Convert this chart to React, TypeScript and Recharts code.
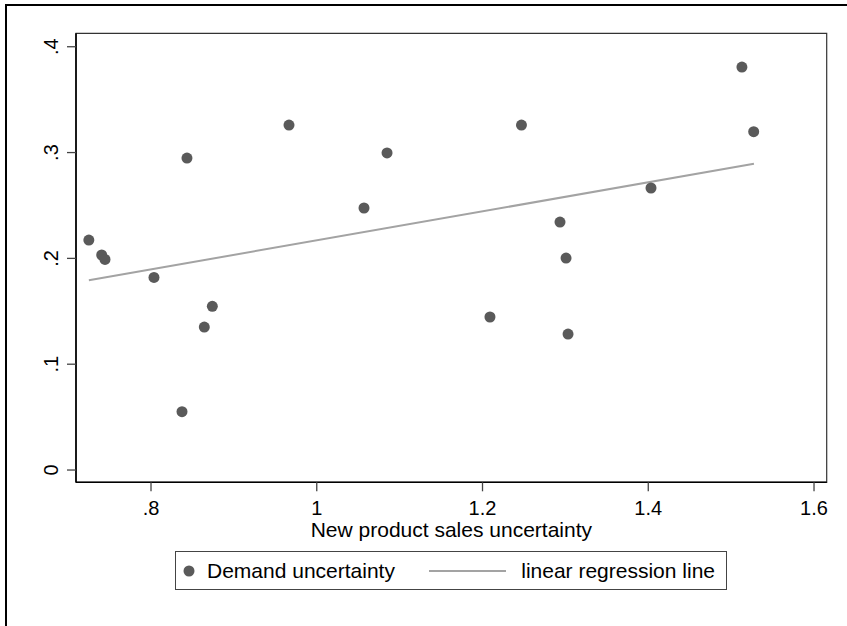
import React from 'react';
import { ScatterChart, Scatter, XAxis, YAxis, ReferenceArea } from 'recharts';

// sales uncertainty (x) vs demand uncertainty (y)
const salesUncertainty = [0.725, 0.7405, 0.7445, 0.8036, 0.874, 0.8643, 0.8374, 0.8434, 0.9665, 1.057, 1.0848, 1.209, 1.247, 1.2935, 1.3008, 1.3032, 1.4033, 1.513, 1.5272];
const demandUncertainty = [0.2173, 0.2032, 0.199, 0.182, 0.1547, 0.1351, 0.0551, 0.2948, 0.326, 0.2476, 0.2996, 0.1446, 0.326, 0.2343, 0.2003, 0.1285, 0.2665, 0.3808, 0.3197];

// fitted line end points
const fitX = [0.725, 1.5275];
const fitY = [0.1793, 0.2894];

const xTicks = [0.8, 1, 1.2, 1.4, 1.6];
const yTicks = [0, 0.1, 0.2, 0.3, 0.4];
const xDomain = [0.7095, 1.6153];
const yDomain = [-0.0116, 0.4127];

const points = salesUncertainty.map((x, i) => ({ x, y: demandUncertainty[i] }));
const fitLine = fitX.map((x, i) => ({ x, y: fitY[i] }));

const FONT = '"Liberation Sans", Arial, Helvetica, sans-serif';
const MARKER = '#5a5a5a';
const LINE = '#a3a3a3';

// stata style labels: .8 instead of 0.8
const fmt = (v: number) => {
    const s = String(Math.round(v * 10) / 10);
    return s.startsWith('0.') ? s.slice(1) : s;
};

const XTick = ({ x, y, payload }: any) => (
    <text x={x} y={y + 22} textAnchor="middle" fontSize={20} fontFamily={FONT} fill="#000">
        {fmt(payload.value)}
    </text>
);

const YTick = ({ x, y, payload }: any) => {
    const bx = x - 7;
    return (
        <text x={bx} y={y} transform={`rotate(-90 ${bx} ${y})`} textAnchor="middle" fontSize={20} fontFamily={FONT} fill="#000">
            {fmt(payload.value)}
        </text>
    );
};

const Dot = (p: any) => <circle cx={p.cx} cy={p.cy} r={5.5} fill={MARKER} />;

export default function App() {
    return (
        <div style={{ position: 'absolute', left: 0, top: 0, width: 847, height: 626, background: '#fff', overflow: 'hidden' }}>
            {/* outer frame */}
            <div style={{ position: 'absolute', left: 5, top: 4, width: 900, height: 700, borderTop: '2px solid #000', borderLeft: '2px solid #000' }} />

            <ScatterChart width={847} height={626} margin={{ top: 33.3, right: 20.3, bottom: 83.7, left: 0 }} style={{ position: 'absolute', left: 0, top: 0 }}>
                <ReferenceArea x1={xDomain[0]} x2={xDomain[1]} y1={yDomain[0]} y2={yDomain[1]} fill="none" stroke="#333" strokeWidth={1.2} />
                <XAxis
                    type="number"
                    dataKey="x"
                    domain={xDomain}
                    ticks={xTicks}
                    allowDataOverflow
                    height={60}
                    tickSize={9}
                    tick={<XTick />}
                    tickLine={{ stroke: '#444', strokeWidth: 1.3 }}
                    axisLine={{ stroke: '#000', strokeWidth: 1.6 }}
                    label={{
                        content: ({ viewBox }: any) => (
                            <text x={viewBox.x + viewBox.width / 2} y={537} textAnchor="middle" fontSize={21} fontFamily={FONT} fill="#000">
                                New product sales uncertainty
                            </text>
                        ),
                    }}
                />
                <YAxis
                    type="number"
                    dataKey="y"
                    domain={yDomain}
                    ticks={yTicks}
                    allowDataOverflow
                    width={76}
                    tickSize={9}
                    tick={<YTick />}
                    tickLine={{ stroke: '#444', strokeWidth: 1.3 }}
                    axisLine={{ stroke: '#000', strokeWidth: 1.6 }}
                />
                <Scatter data={fitLine} line={{ stroke: LINE, strokeWidth: 2 }} shape={() => <g />} isAnimationActive={false} />
                <Scatter data={points} shape={<Dot />} isAnimationActive={false} />
            </ScatterChart>

            {/* legend box */}
            <svg width={847} height={626} style={{ position: 'absolute', left: 0, top: 0, pointerEvents: 'none' }}>
                <rect x={175.5} y={551.5} width={551} height={38} fill="#fff" stroke="#444" strokeWidth={1} />
                <circle cx={189} cy={571} r={5.5} fill={MARKER} />
                <text x={207} y={578} fontSize={21} fontFamily={FONT} fill="#000">Demand uncertainty</text>
                <line x1={429} y1={571} x2={506} y2={571} stroke={LINE} strokeWidth={2} />
                <text x={715} y={578} textAnchor="end" fontSize={21} fontFamily={FONT} fill="#000">linear regression line</text>
            </svg>
        </div>
    );
}
